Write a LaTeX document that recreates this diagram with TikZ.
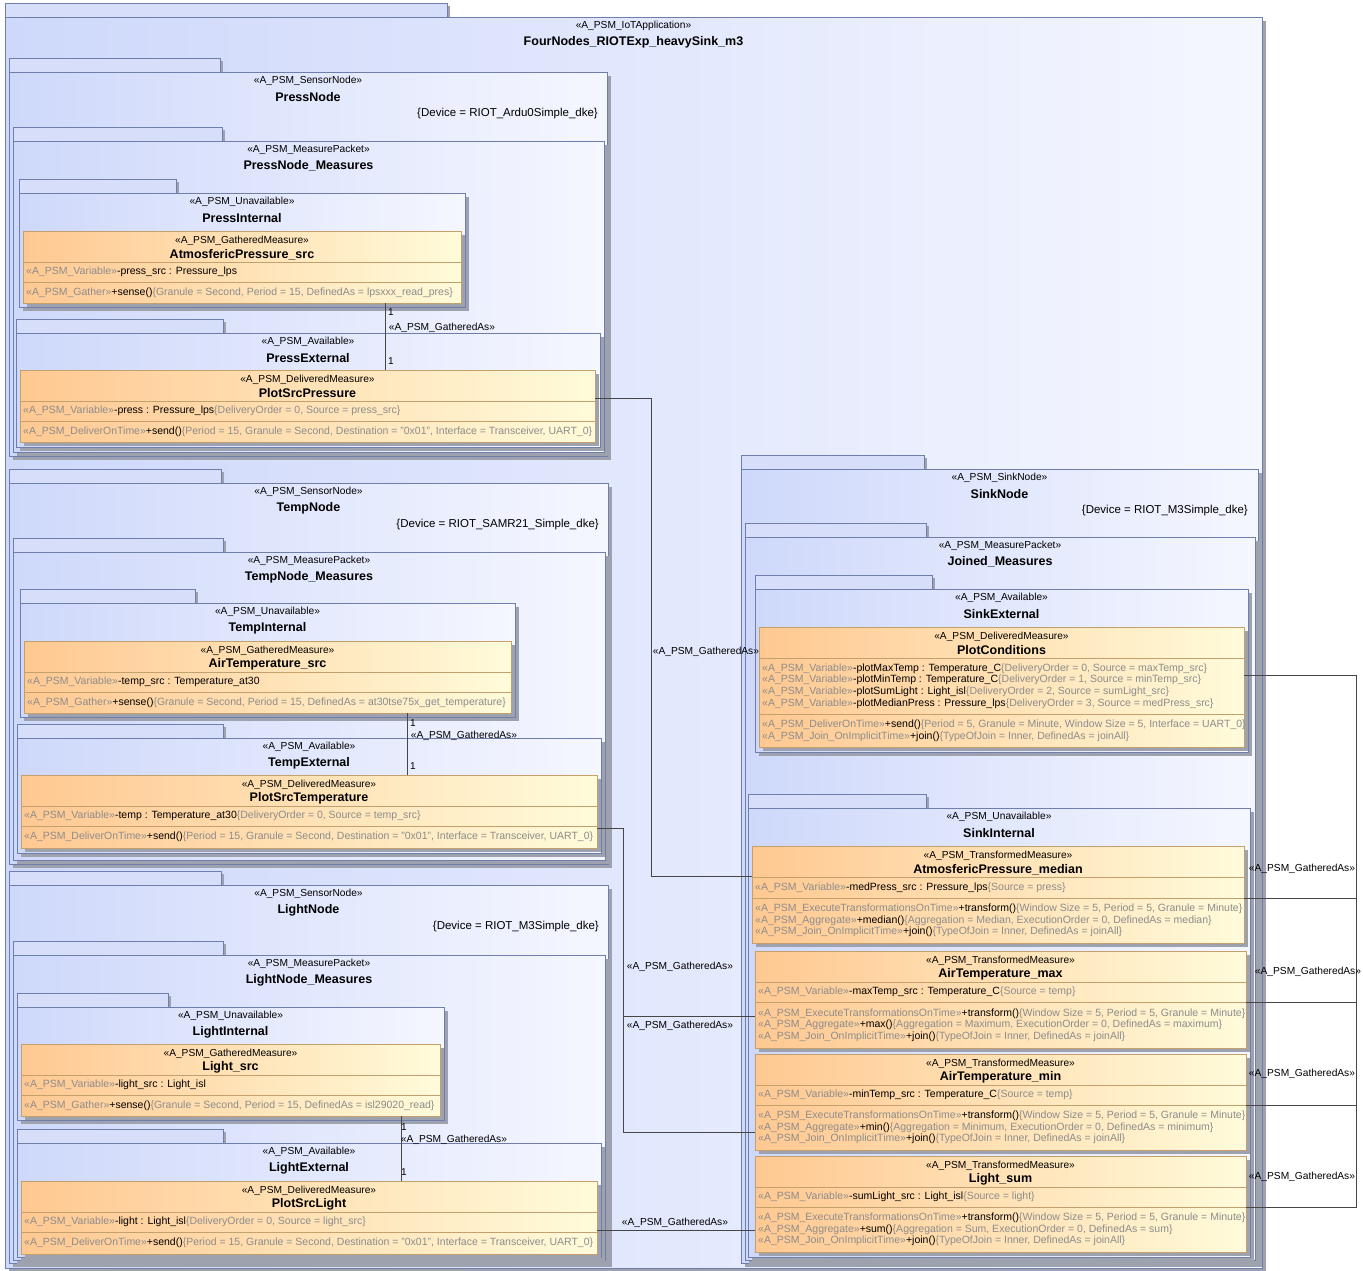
\documentclass[tikz,border=0pt]{standalone}
\usepackage{fontspec}
\setmainfont{Liberation Sans}
\usepackage{tikz}
\usetikzlibrary{calc,fit,positioning}
\definecolor{framec}{RGB}{112,126,172}
\definecolor{pkgL}{RGB}{206,216,250}
\definecolor{pkgR}{RGB}{245,247,255}
\definecolor{tabc}{RGB}{214,222,250}
\definecolor{measL}{RGB}{255,200,145}
\definecolor{measR}{RGB}{255,251,218}
\definecolor{measline}{RGB}{196,160,110}
\definecolor{shadowc}{RGB}{158,161,174}
\definecolor{txtgray}{RGB}{140,140,140}
\definecolor{connc}{RGB}{70,70,70}
\newcommand{\stp}[1]{\textcolor{txtgray}{«A\_PSM\_#1»}}
\newcommand{\cns}[1]{\textcolor{txtgray}{\{#1\}}}
\tikzset{
  pkgbox/.style={draw=framec,line width=0.7pt,left color=pkgL,right color=pkgR,inner sep=0pt,outer sep=0pt},
  tabbox/.style={draw=framec,line width=0.7pt,fill=tabc},
  shadowfill/.style={fill=shadowc},
  measure/.style={draw=measline,line width=0.7pt,left color=measL,right color=measR,inner sep=0pt,outer sep=0pt},
  sepline/.style={draw=measline,line width=0.7pt},
  stereo/.style={font=\fontsize{10.2}{12}\selectfont,inner sep=0pt},
  nametext/.style={font=\bfseries\fontsize{12.5}{14}\selectfont,inner sep=0pt},
  memb/.style={font=\fontsize{10.5}{11.6}\selectfont,inner sep=0pt,anchor=west,align=left},
  devtext/.style={font=\fontsize{11.5}{13}\selectfont,inner sep=0pt,anchor=east},
  lbl/.style={font=\fontsize{10.2}{12}\selectfont,inner sep=0pt},
  mult/.style={font=\fontsize{10}{12}\selectfont,inner sep=0pt,anchor=west},
  conn/.style={draw=connc,line width=0.8pt}
}
% package frame with tab: name, x1, y1 (tab top), tab right, x2, y2, stereotype, title
\newcommand{\pkgframe}[8]{%
  \fill[shadowfill] (#2+3,#3+3) rectangle (#4+3,#3+14);
  \fill[shadowfill] (#2+4,#3+18) rectangle (#5+4,#6+4);
  \draw[tabbox] (#2,#3) rectangle (#4,#3+14);
  \coordinate (#1nw) at (#2,#3+14);
  \coordinate (#1se) at (#5,#6);
  \node[pkgbox,fit=(#1nw)(#1se)] (#1) {};
  \node[stereo] (#1st) at ($(#1.north)+(0,9)$) {«A\_PSM\_#7»};
  \node[nametext] (#1nm) at ($(#1.north)+(0,25)$) {#8};
}
% measure class box: name, x1, y1, x2, y2, attribute height, stereotype, title
\newcommand{\measbox}[8]{%
  \fill[shadowfill] (#2+4,#3+4) rectangle (#4+4,#5+4);
  \coordinate (#1nw) at (#2,#3);
  \coordinate (#1se) at (#4,#5);
  \node[measure,fit=(#1nw)(#1se)] (#1) {};
  \coordinate (#1sa) at (#2,#3+31);
  \coordinate (#1sb) at (#2,#3+31+#6);
  \draw[sepline] (#1sa) -- (#1sa -| #1.east);
  \draw[sepline] (#1sb) -- (#1sb -| #1.east);
  \node[stereo] (#1st) at ($(#1.north)+(0,9.5)$) {«A\_PSM\_#7»};
  \node[nametext] (#1nm) at ($(#1.north)+(0,23.5)$) {#8};
}
\newcommand{\members}[3]{%
  \node[memb] (#1at) at ($(#1sa)!0.5!(#1sb)+(3,0)$) {#2};
  \node[memb] (#1op) at ($(#1sb)!0.5!(#1.south west)+(3,0)$) {#3};
}

\begin{document}
\begin{tikzpicture}[x=1pt,y=-1pt]
  \useasboundingbox (0,0) rectangle (1363,1270);

  \pkgframe{app}{5}{3}{447}{1262}{1268}{IoTApplication}{FourNodes\_RIOTExp\_heavySink\_m3}

  % pressure node
  \pkgframe{pressnode}{9}{58}{220}{607}{456}{SensorNode}{PressNode}
  \node[devtext] (pressdev) at ($(pressnode.north east)+(-9,42)$) {\{Device = RIOT\_Ardu0Simple\_dke\}};
  \pkgframe{presspkt}{13}{127}{222}{604}{452}{MeasurePacket}{PressNode\_Measures}
  \pkgframe{pressint}{19}{179}{176}{465}{307}{Unavailable}{PressInternal}
  \measbox{atmsrc}{23}{231}{461}{303}{20}{GatheredMeasure}{AtmosfericPressure\_src}
  \members{atmsrc}{\stp{Variable}-press\_src : Pressure\_lps}
    {\stp{Gather}+sense()\cns{Granule = Second, Period = 15, DefinedAs = lpsxxx\_read\_pres}}
  \pkgframe{pressext}{16}{319}{223}{600}{447}{Available}{PressExternal}
  \measbox{plotpress}{20}{370}{595}{442}{20}{DeliveredMeasure}{PlotSrcPressure}
  \members{plotpress}{\stp{Variable}-press : Pressure\_lps\cns{DeliveryOrder = 0, Source = press\_src}}
    {\stp{DeliverOnTime}+send()\cns{Period = 15, Granule = Second, Destination = "0x01", Interface = Transceiver, UART\_0}}

  % temperature node
  \pkgframe{tempnode}{9}{469}{221}{608}{864}{SensorNode}{TempNode}
  \node[devtext] (tempdev) at ($(tempnode.north east)+(-9,42)$) {\{Device = RIOT\_SAMR21\_Simple\_dke\}};
  \pkgframe{temppkt}{13}{538}{223}{605}{860}{MeasurePacket}{TempNode\_Measures}
  \pkgframe{tempint}{20}{589}{195}{515}{717}{Unavailable}{TempInternal}
  \measbox{airsrc}{24}{641}{511}{713}{20}{GatheredMeasure}{AirTemperature\_src}
  \members{airsrc}{\stp{Variable}-temp\_src : Temperature\_at30}
    {\stp{Gather}+sense()\cns{Granule = Second, Period = 15, DefinedAs = at30tse75x\_get\_temperature}}
  \pkgframe{tempext}{17}{724}{223}{601}{853}{Available}{TempExternal}
  \measbox{plottemp}{21}{775}{597}{848}{20}{DeliveredMeasure}{PlotSrcTemperature}
  \members{plottemp}{\stp{Variable}-temp : Temperature\_at30\cns{DeliveryOrder = 0, Source = temp\_src}}
    {\stp{DeliverOnTime}+send()\cns{Period = 15, Granule = Second, Destination = "0x01", Interface = Transceiver, UART\_0}}

  % light node
  \pkgframe{lightnode}{9}{871}{221}{608}{1263}{SensorNode}{LightNode}
  \node[devtext] (lightdev) at ($(lightnode.north east)+(-9,42)$) {\{Device = RIOT\_M3Simple\_dke\}};
  \pkgframe{lightpkt}{13}{941}{223}{605}{1260}{MeasurePacket}{LightNode\_Measures}
  \pkgframe{lightint}{17}{993}{168}{444}{1120}{Unavailable}{LightInternal}
  \measbox{lightsrc}{21}{1044}{440}{1116}{20}{GatheredMeasure}{Light\_src}
  \members{lightsrc}{\stp{Variable}-light\_src : Light\_isl}
    {\stp{Gather}+sense()\cns{Granule = Second, Period = 15, DefinedAs = isl29020\_read}}
  \pkgframe{lightext}{17}{1129}{223}{601}{1257}{Available}{LightExternal}
  \measbox{plotlight}{21}{1181}{597}{1254}{20}{DeliveredMeasure}{PlotSrcLight}
  \members{plotlight}{\stp{Variable}-light : Light\_isl\cns{DeliveryOrder = 0, Source = light\_src}}
    {\stp{DeliverOnTime}+send()\cns{Period = 15, Granule = Second, Destination = "0x01", Interface = Transceiver, UART\_0}}

  % sink node
  \pkgframe{sinknode}{741}{455}{924}{1258}{1263}{SinkNode}{SinkNode}
  \node[devtext] (sinkdev) at ($(sinknode.north east)+(-10,42)$) {\{Device = RIOT\_M3Simple\_dke\}};
  \pkgframe{joined}{745}{523}{926}{1255}{1260}{MeasurePacket}{Joined\_Measures}
  \pkgframe{sinkext}{755}{575}{932}{1248}{752}{Available}{SinkExternal}
  \measbox{plotcond}{759}{627}{1244}{747}{56}{DeliveredMeasure}{PlotConditions}
  \members{plotcond}{\stp{Variable}-plotMaxTemp : Temperature\_C\cns{DeliveryOrder = 0, Source = maxTemp\_src}\\
      \stp{Variable}-plotMinTemp : Temperature\_C\cns{DeliveryOrder = 1, Source = minTemp\_src}\\
      \stp{Variable}-plotSumLight : Light\_isl\cns{DeliveryOrder = 2, Source = sumLight\_src}\\
      \stp{Variable}-plotMedianPress : Pressure\_lps\cns{DeliveryOrder = 3, Source = medPress\_src}}
    {\stp{DeliverOnTime}+send()\cns{Period = 5, Granule = Minute, Window Size = 5, Interface = UART\_0}\\
      \stp{Join\_OnImplicitTime}+join()\cns{TypeOfJoin = Inner, DefinedAs = joinAll}}
  \pkgframe{sinkint}{748}{794}{926}{1250}{1257}{Unavailable}{SinkInternal}
  \measbox{medpress}{752}{846}{1244}{943}{21}{TransformedMeasure}{AtmosfericPressure\_median}
  \members{medpress}{\stp{Variable}-medPress\_src : Pressure\_lps\cns{Source = press}}
    {\stp{ExecuteTransformationsOnTime}+transform()\cns{Window Size = 5, Period = 5, Granule = Minute}\\
      \stp{Aggregate}+median()\cns{Aggregation = Median, ExecutionOrder = 0, DefinedAs = median}\\
      \stp{Join\_OnImplicitTime}+join()\cns{TypeOfJoin = Inner, DefinedAs = joinAll}}
  \measbox{tmax}{755}{951}{1246}{1048}{20}{TransformedMeasure}{AirTemperature\_max}
  \members{tmax}{\stp{Variable}-maxTemp\_src : Temperature\_C\cns{Source = temp}}
    {\stp{ExecuteTransformationsOnTime}+transform()\cns{Window Size = 5, Period = 5, Granule = Minute}\\
      \stp{Aggregate}+max()\cns{Aggregation = Maximum, ExecutionOrder = 0, DefinedAs = maximum}\\
      \stp{Join\_OnImplicitTime}+join()\cns{TypeOfJoin = Inner, DefinedAs = joinAll}}
  \measbox{tmin}{755}{1054}{1246}{1150}{20}{TransformedMeasure}{AirTemperature\_min}
  \members{tmin}{\stp{Variable}-minTemp\_src : Temperature\_C\cns{Source = temp}}
    {\stp{ExecuteTransformationsOnTime}+transform()\cns{Window Size = 5, Period = 5, Granule = Minute}\\
      \stp{Aggregate}+min()\cns{Aggregation = Minimum, ExecutionOrder = 0, DefinedAs = minimum}\\
      \stp{Join\_OnImplicitTime}+join()\cns{TypeOfJoin = Inner, DefinedAs = joinAll}}
  \measbox{lsum}{755}{1156}{1246}{1252}{20}{TransformedMeasure}{Light\_sum}
  \members{lsum}{\stp{Variable}-sumLight\_src : Light\_isl\cns{Source = light}}
    {\stp{ExecuteTransformationsOnTime}+transform()\cns{Window Size = 5, Period = 5, Granule = Minute}\\
      \stp{Aggregate}+sum()\cns{Aggregation = Sum, ExecutionOrder = 0, DefinedAs = sum}\\
      \stp{Join\_OnImplicitTime}+join()\cns{TypeOfJoin = Inner, DefinedAs = joinAll}}

  % gathered-as links inside the sensor nodes
  \draw[conn] ($(atmsrc.south west)+(362,0)$) -- ($(plotpress.north west)+(365,0)$);
  \node[mult] (pm1) at (388,312) {1};
  \node[mult] (pm2) at (388,361) {1};
  \node[lbl] (pga) at (442,328) {«A\_PSM\_GatheredAs»};
  \draw[conn] ($(airsrc.south west)+(383,0)$) -- ($(plottemp.north west)+(386,0)$);
  \node[mult] (tm1) at (410,723) {1};
  \node[mult] (tm2) at (410,766) {1};
  \node[lbl] (tga) at (464,736) {«A\_PSM\_GatheredAs»};
  \draw[conn] ($(lightsrc.south west)+(380,0)$) -- ($(plotlight.north west)+(380,0)$);
  \node[mult] (lm1) at (401,1127) {1};
  \node[mult] (lm2) at (401,1172) {1};
  \node[lbl] (lga) at (454,1140) {«A\_PSM\_GatheredAs»};

  % links to the sink
  \coordinate (lp) at (651,0);
  \coordinate (lt) at (623,0);
  \coordinate (rt) at (1356,0);
  \coordinate (ppout) at ($(plotpress.north east)+(0,28)$);
  \coordinate (mpin) at ($(medpress.north west)+(0,30)$);
  \coordinate (ptout) at ($(plottemp.north east)+(0,53)$);
  \coordinate (maxin) at ($(tmax.north west)+(0,65)$);
  \coordinate (minin) at ($(tmin.north west)+(0,78)$);
  \coordinate (plout) at ($(plotlight.north east)+(0,49)$);
  \coordinate (sumin) at (lsum.west |- plout);
  \coordinate (pcout) at ($(plotcond.north east)+(0,48)$);
  \draw[conn] (ppout) -| (lp |- mpin) -- (mpin);
  \draw[conn] (ptout) -| (lt |- maxin) -- (maxin);
  \draw[conn] (ptout) -| (lt |- minin) -- (minin);
  \draw[conn] (plout) -- (sumin);
  \node[lbl] (ga1) at (706,652) {«A\_PSM\_GatheredAs»};
  \node[lbl] (ga2) at (680,967) {«A\_PSM\_GatheredAs»};
  \node[lbl] (ga3) at (680,1026) {«A\_PSM\_GatheredAs»};
  \node[lbl] (ga4) at (675,1223) {«A\_PSM\_GatheredAs»};
  \draw[conn] (pcout) -| (rt |- medpresssb) -- (medpresssb -| medpress.east);
  \draw[conn] (pcout) -| (rt |- tmaxsb) -- (tmaxsb -| tmax.east);
  \draw[conn] (pcout) -| (rt |- tminsb) -- (tminsb -| tmin.east);
  \draw[conn] (pcout) -| (rt |- lsumsb) -- (lsumsb -| lsum.east);
  \node[lbl] (ga5) at (1302,869) {«A\_PSM\_GatheredAs»};
  \node[lbl] (ga6) at (1308,972) {«A\_PSM\_GatheredAs»};
  \node[lbl] (ga7) at (1302,1074) {«A\_PSM\_GatheredAs»};
  \node[lbl] (ga8) at (1302,1177) {«A\_PSM\_GatheredAs»};
\end{tikzpicture}
\end{document}
